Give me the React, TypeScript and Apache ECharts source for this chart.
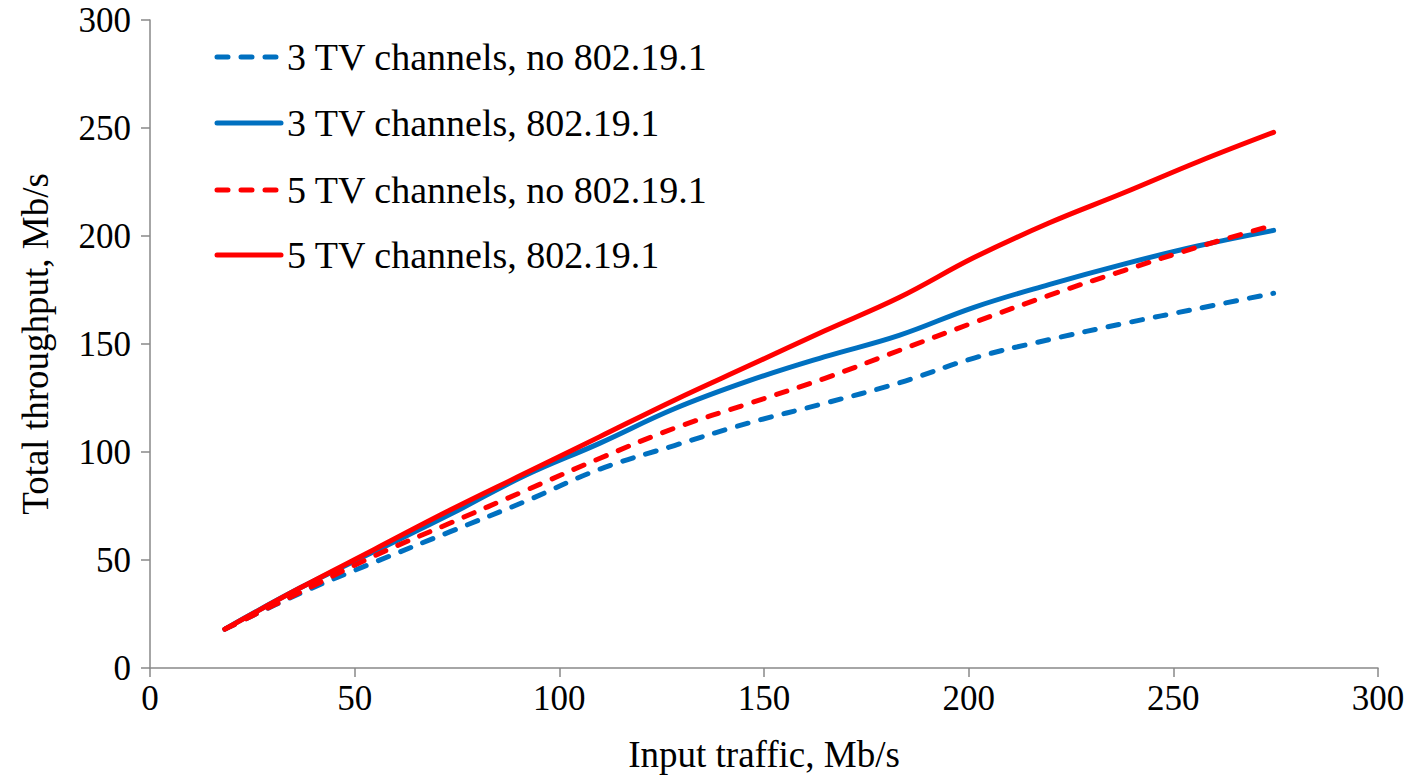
import React, { useEffect, useRef } from "react";
import * as echarts from "echarts";

const inputTraffic = [18.3, 36.6, 54.9, 73.2, 91.5, 109.8, 128.1, 146.4, 164.7, 183, 201.3, 219.6, 237.9, 256.2, 274.5];
const tv3No = [18, 34.5, 49, 63, 77, 92, 103, 113.5, 122.5, 132, 143.5, 152, 159.5, 166.5, 173.5];
const tv3Yes = [18, 37, 54, 71, 89, 104, 120, 133, 144, 154, 167, 177.5, 187, 195.5, 202.6];
const tv5No = [18, 35, 52, 67, 82, 97, 111, 122.5, 134, 147, 160, 172.5, 184, 195, 205];
const tv5Yes = [18, 37, 55, 73, 90, 107, 124, 140, 156, 171.5, 190, 206, 220, 234.5, 248];
const seriesNames = [
  "3 TV channels, no 802.19.1",
  "3 TV channels, 802.19.1",
  "5 TV channels, no 802.19.1",
  "5 TV channels, 802.19.1",
];

const BLUE = "#0070C0";
const RED = "#FF0000";
const FONT = "Liberation Serif";
const DASH = [11, 13];

function pairs(ys: number[]) {
  return inputTraffic.map((x, i) => [x, ys[i]]);
}

export default function App() {
  const ref = useRef<HTMLDivElement>(null);
  useEffect(() => {
    if (!ref.current) return;
    const chart = echarts.init(ref.current, null, { renderer: "svg" });
    const styles = [
      { color: BLUE, dashed: true },
      { color: BLUE, dashed: false },
      { color: RED, dashed: true },
      { color: RED, dashed: false },
    ];
    const mk = (name: string, data: number[], color: string, dashed: boolean) => ({
      name,
      type: "line",
      data: pairs(data),
      smooth: 0.4,
      showSymbol: false,
      symbol: "none",
      lineStyle: {
        color,
        width: 5,
        type: dashed ? DASH : "solid",
        cap: "round",
        join: "round",
      },
      itemStyle: { color },
    });
    const legendRows = [57, 123, 190, 255];
    const legendGraphics: any[] = [];
    seriesNames.forEach((n, i) => {
      const s = styles[i];
      legendGraphics.push({
        type: "line",
        shape: { x1: 217, y1: legendRows[i], x2: 281, y2: legendRows[i] },
        style: {
          stroke: s.color,
          lineWidth: 5,
          lineCap: "round",
          lineDash: s.dashed ? DASH : null,
        },
      });
      legendGraphics.push({
        type: "text",
        x: 287,
        y: legendRows[i],
        style: {
          text: n,
          fontFamily: FONT,
          fontSize: 38,
          fill: "#000",
          verticalAlign: "middle",
          align: "left",
        },
      });
    });
    chart.setOption({
      animation: false,
      backgroundColor: "#ffffff",
      grid: { left: 150, right: 30, top: 20, bottom: 108, containLabel: false },
      graphic: legendGraphics,
      xAxis: {
        type: "value",
        min: 0,
        max: 300,
        interval: 50,
        name: "Input traffic, Mb/s",
        nameLocation: "middle",
        nameGap: 68,
        nameTextStyle: { fontFamily: FONT, fontSize: 37, color: "#000" },
        axisLine: { show: true, lineStyle: { color: "#898989", width: 1.5 } },
        axisTick: { show: true, length: 9, lineStyle: { color: "#898989", width: 1.5 } },
        axisLabel: { fontFamily: FONT, fontSize: 35, color: "#000", margin: 13 },
        splitLine: { show: false },
      },
      yAxis: {
        type: "value",
        min: 0,
        max: 300,
        interval: 50,
        name: "Total throughput, Mb/s",
        nameLocation: "middle",
        nameGap: 96,
        nameTextStyle: { fontFamily: FONT, fontSize: 37, color: "#000" },
        axisLine: { show: true, lineStyle: { color: "#898989", width: 1.5 } },
        axisTick: { show: true, length: 9, lineStyle: { color: "#898989", width: 1.5 } },
        axisLabel: { fontFamily: FONT, fontSize: 35, color: "#000", margin: 19 },
        splitLine: { show: false },
      },
      series: [
        mk(seriesNames[0], tv3No, BLUE, true),
        mk(seriesNames[1], tv3Yes, BLUE, false),
        mk(seriesNames[2], tv5No, RED, true),
        mk(seriesNames[3], tv5Yes, RED, false),
      ],
    });
    return () => chart.dispose();
  }, []);
  return (
    <div
      ref={ref}
      style={{ position: "fixed", left: 0, top: 0, width: 1408, height: 778, background: "#fff" }}
    />
  );
}
